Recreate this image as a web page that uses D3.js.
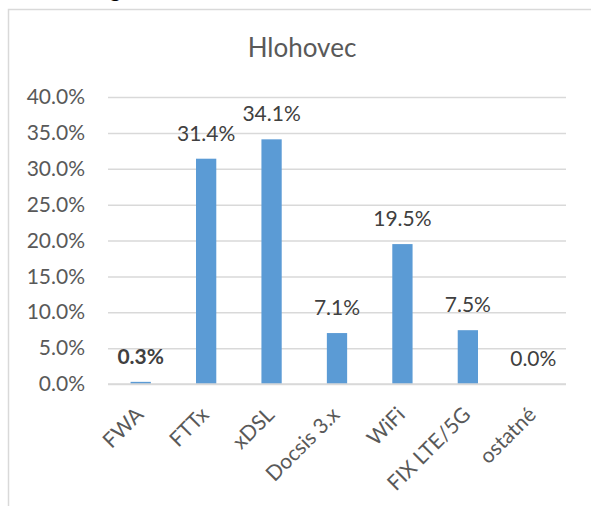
<!DOCTYPE html>
<html>
<head>
<meta charset="utf-8">
<script src="https://cdn.jsdelivr.net/npm/d3@7"></script>
<style>
  body { margin: 0; background: #fff; }
  svg { display: block; font-family: Lato, "Open Sans", sans-serif; }
</style>
</head>
<body>
<svg id="chart"></svg>
<script>
var categories = ['FWA', 'FTTx', 'xDSL', 'Docsis 3.x', 'WiFi', 'FIX LTE/5G', 'ostatné'];
var values = [0.003, 0.314, 0.341, 0.071, 0.195, 0.075, 0.0];
var yTicks = [0, 0.05, 0.10, 0.15, 0.20, 0.25, 0.30, 0.35, 0.40];
var title = 'Hlohovec';

(function () {
  var width = 591, height = 506;
  var plot = {left: 108, right: 566, top: 97, bottom: 384};
  var barColor = '#5b9bd5', gridColor = '#d9d9d9';

  var svg = d3.select('#chart')
      .attr('width', width)
      .attr('height', height);

  svg.append('rect')
    .attr('width', width).attr('height', height)
    .attr('fill', '#fff');

  // bit of the document heading above the chart
  svg.append('text')
    .attr('x', 110).attr('y', -3)
    .attr('font-size', 20)
    .attr('font-weight', 'bold')
    .attr('fill', '#000')
    .text('g');

  // chart frame (only left + top edges are visible)
  svg.append('path')
    .attr('d', 'M8.5,' + height + 'V9.5H' + width)
    .attr('fill', 'none')
    .attr('stroke', gridColor)
    .attr('stroke-width', 1.5);

  var x = d3.scaleBand()
      .domain(categories)
      .range([plot.left, plot.right])
      .paddingInner(0.69)
      .paddingOuter(0.345);

  var y = d3.scaleLinear()
      .domain([0, 0.4])
      .range([plot.bottom, plot.top]);

  var fmt = d3.format('.1%');

  svg.append('text')
    .attr('x', 302).attr('y', 57)
    .attr('text-anchor', 'middle')
    .attr('font-size', 26)
    .attr('fill', '#595959')
    .text(title);

  // gridlines + y labels
  var yAxis = svg.append('g')
      .attr('transform', 'translate(' + plot.left + ',0)')
      .call(d3.axisLeft(y).tickValues(yTicks).tickFormat(fmt)
        .tickSize(-(plot.right - plot.left)).tickPadding(23));
  yAxis.select('.domain').remove();
  yAxis.selectAll('line')
    .attr('stroke', gridColor)
    .attr('stroke-width', 1.5);
  yAxis.selectAll('text')
    .attr('font-family', 'Lato, sans-serif')
    .attr('font-size', 21)
    .attr('fill', '#595959');

  svg.selectAll('.bar')
    .data(values)
    .enter().append('rect')
    .attr('class', 'bar')
    .attr('x', function(d, i) { return x(categories[i]); })
    .attr('width', x.bandwidth())
    .attr('y', function(d) { return y(d); })
    .attr('height', function(d) { return y(0) - y(d); })
    .attr('fill', barColor);

  // x axis line
  svg.append('line')
    .attr('x1', plot.left).attr('x2', plot.right)
    .attr('y1', y(0)).attr('y2', y(0))
    .attr('stroke', gridColor)
    .attr('stroke-width', 1.5);

  // data labels
  svg.selectAll('.lbl')
    .data(values)
    .enter().append('text')
    .attr('class', 'lbl')
    .attr('x', function(d, i) { return x(categories[i]) + x.bandwidth() / 2; })
    .attr('y', function(d) { return y(d) - 18; })
    .attr('text-anchor', 'middle')
    .attr('font-size', 21)
    .attr('font-weight', function(d, i) { return i === 0 ? 'bold' : 'normal'; })
    .attr('fill', '#404040')
    .text(function(d) { return fmt(d); });

  // rotated category labels
  svg.selectAll('.cat')
    .data(categories)
    .enter().append('text')
    .attr('class', 'cat')
    .attr('transform', function(d) {
      return 'translate(' + (x(d) + x.bandwidth() / 2 + 4) + ',416) rotate(-45)';
    })
    .attr('text-anchor', 'end')
    .attr('font-size', 21)
    .attr('fill', '#595959')
    .text(function(d) { return d; });
})();
</script>
</body>
</html>
